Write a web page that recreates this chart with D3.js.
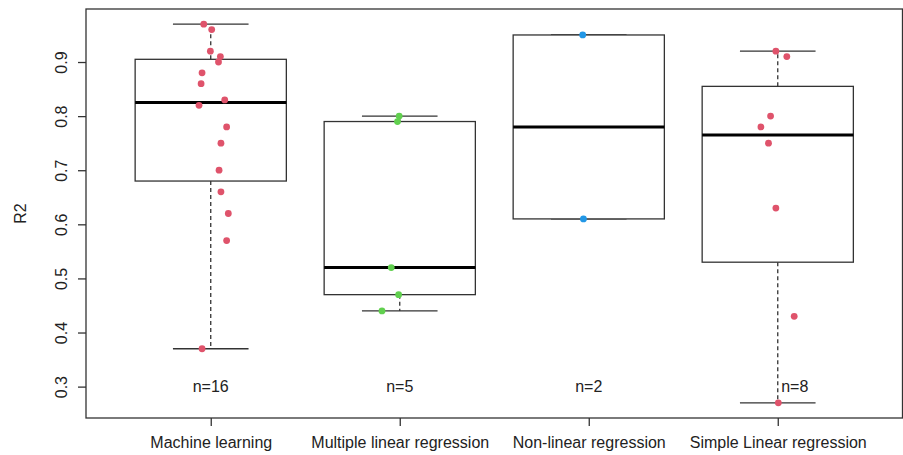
<!DOCTYPE html>
<html>
<head>
<meta charset="utf-8">
<script src="https://cdn.jsdelivr.net/npm/d3@7"></script>
<style>
  body { margin: 0; background: #fff; }
  text { font-family: "Liberation Sans", Arial, sans-serif; fill: #222; }
</style>
</head>
<body>
<div id="paper"></div>
<script>
// data

const categories = ["Machine learning", "Multiple linear regression", "Non-linear regression", "Simple Linear regression"]
const colors = ["#DF536B", "#61D04F", "#2297E6", "#DF536B"]

const ml_values = [0.97, 0.96, 0.92, 0.91, 0.90, 0.88, 0.86, 0.83, 0.82, 0.78, 0.75, 0.70, 0.66, 0.62, 0.57, 0.37]
const ml_jitter = [-0.037, 0.005, -0.002, 0.051, 0.041, -0.046, -0.051, 0.074, -0.062, 0.084, 0.054, 0.044, 0.054, 0.093, 0.084, -0.046]

const mlr_values = [0.80, 0.79, 0.52, 0.47, 0.44]
const mlr_jitter = [-0.003, -0.012, -0.045, -0.006, -0.094]

const nlr_values = [0.95, 0.61]
const nlr_jitter = [-0.032, -0.028]

const slr_values = [0.92, 0.91, 0.80, 0.78, 0.75, 0.63, 0.43, 0.27]
const slr_jitter = [-0.01, 0.048, -0.038, -0.089, -0.049, -0.01, 0.087, 0.003]

const yticks = [0.3, 0.4, 0.5, 0.6, 0.7, 0.8, 0.9]

// n= labels sit at 0.3, the last one is pushed right of its whisker
const n_label_at = 0.3
const n_label_nudge = [0, 0, 0, 0.09]

const groups = [
    [ml_values, ml_jitter],
    [mlr_values, mlr_jitter],
    [nlr_values, nlr_jitter],
    [slr_values, slr_jitter]
]

// tukey five numbers, like R's boxplot

function fivenum(v) {
    const s = v.slice().sort(d3.ascending)
    const n = s.length
    const n4 = Math.floor((n + 3) / 2) / 2
    const d = [1, n4, (n + 1) / 2, n + 1 - n4, n]
    return d.map(x => 0.5 * (s[Math.floor(x) - 1] + s[Math.ceil(x) - 1]))
}

// svg

const W = 903, H = 455
const mLeft = 86, mRight = 902.5, mTop = 9, mBottom = 418

const svg = d3.select("#paper")
    .append("svg")
    .attr("width", W)
    .attr("height", H)

const all = d3.merge(groups.map(g => g[0]))
const ext = d3.extent(all)
const pad = (ext[1] - ext[0]) * 0.04

const y = d3.scaleLinear()
    .domain([ext[0] - pad, ext[1] + pad])
    .range([mBottom, mTop])

const x = d3.scaleLinear()
    .domain([0.5 - 0.16, categories.length + 0.5 + 0.16])
    .range([mLeft, mRight])

const unit = x(1) - x(0)
const boxW = 0.8 * unit
const capW = 0.4 * unit

// boxes

const stroke = "#333"

groups.forEach((g, i) => {
    const f = fivenum(g[0])
    const cx = x(i + 1)
    const gg = svg.append("g")

    // whiskers
    gg.append("line")
        .attr("x1", cx).attr("x2", cx)
        .attr("y1", y(f[3])).attr("y2", y(f[4]))
        .attr("stroke", stroke).attr("stroke-width", 1.3)
        .attr("stroke-dasharray", "4,3")
    gg.append("line")
        .attr("x1", cx).attr("x2", cx)
        .attr("y1", y(f[1])).attr("y2", y(f[0]))
        .attr("stroke", stroke).attr("stroke-width", 1.3)
        .attr("stroke-dasharray", "4,3")

    // caps
    ;[f[0], f[4]].forEach(v => {
        gg.append("line")
            .attr("x1", cx - capW / 2).attr("x2", cx + capW / 2)
            .attr("y1", y(v)).attr("y2", y(v))
            .attr("stroke", stroke).attr("stroke-width", 1.3)
    })

    gg.append("rect")
        .attr("x", cx - boxW / 2)
        .attr("y", y(f[3]))
        .attr("width", boxW)
        .attr("height", y(f[1]) - y(f[3]))
        .attr("fill", "white")
        .attr("stroke", stroke).attr("stroke-width", 1.3)

    gg.append("line")
        .attr("x1", cx - boxW / 2).attr("x2", cx + boxW / 2)
        .attr("y1", y(f[2])).attr("y2", y(f[2]))
        .attr("stroke", "black").attr("stroke-width", 3)
})

// points

groups.forEach((g, i) => {
    svg.append("g")
        .selectAll("circle")
        .data(g[0])
        .join("circle")
        .attr("cx", (d, j) => x(i + 1 + g[1][j]))
        .attr("cy", d => y(d))
        .attr("r", 3.4)
        .attr("fill", colors[i])
})

// n labels

svg.append("g")
    .selectAll("text")
    .data(groups)
    .join("text")
    .attr("x", (d, i) => x(i + 1 + n_label_nudge[i]))
    .attr("y", y(n_label_at))
    .attr("dy", "0.35em")
    .attr("text-anchor", "middle")
    .attr("font-size", "16px")
    .text(d => "n=" + d[0].length)

// frame

svg.append("rect")
    .attr("x", mLeft).attr("y", mTop)
    .attr("width", mRight - mLeft).attr("height", mBottom - mTop)
    .attr("fill", "none")
    .attr("stroke", stroke).attr("stroke-width", 1.3)

// axes

const yAxis = svg.append("g")
    .attr("transform", `translate(${mLeft},0)`)
    .call(d3.axisLeft(y).tickValues(yticks).tickSize(8).tickPadding(0).tickFormat(d3.format(".1f")))
yAxis.select(".domain").remove()
yAxis.selectAll("line").attr("stroke", stroke).attr("stroke-width", 1.3)
yAxis.selectAll("text")
    .attr("font-size", "16px")
    .attr("font-family", '"Liberation Sans", Arial, sans-serif')
    .attr("fill", "#222")
    .attr("text-anchor", "middle")
    .attr("dy", null)
    .attr("x", null)
    .attr("transform", "translate(-23,0) rotate(-90)")
    .attr("dominant-baseline", "middle")

const xAxis = svg.append("g")
    .attr("transform", `translate(0,${mBottom})`)
    .call(d3.axisBottom(x).tickValues(d3.range(1, categories.length + 1)).tickSize(8).tickPadding(11).tickFormat(d => categories[d - 1]))
xAxis.select(".domain").remove()
xAxis.selectAll("line").attr("stroke", stroke).attr("stroke-width", 1.3)
xAxis.selectAll("text")
    .attr("font-size", "16px")
    .attr("font-family", '"Liberation Sans", Arial, sans-serif')
    .attr("fill", "#222")

// y title

svg.append("text")
    .attr("transform", `translate(22,${(mTop + mBottom) / 2}) rotate(-90)`)
    .attr("text-anchor", "middle")
    .attr("dominant-baseline", "middle")
    .attr("font-size", "16px")
    .text("R2")
</script>
</body>
</html>
